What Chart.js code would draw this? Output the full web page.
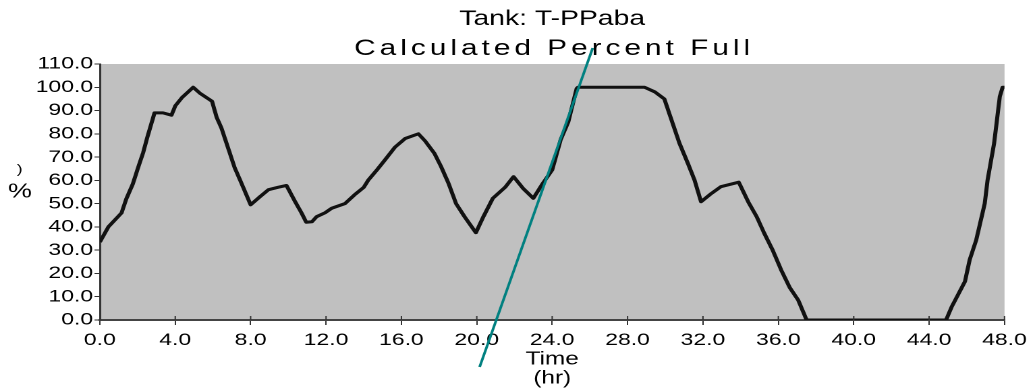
<!DOCTYPE html>
<html>
<head>
<meta charset="utf-8">
<script src="https://cdn.jsdelivr.net/npm/chart.js@4"></script>
<style>
  html, body { margin: 0; padding: 0; background: #fff; overflow: hidden; }
  /* the old report used a wide face, so the whole chart is stretched sideways */
  #wrap {
    position: absolute; left: 0; top: 0;
    width: 767px; height: 391px;
    transform: scaleX(1.3494); transform-origin: 0 0;
  }
</style>
</head>
<body>
<div id="wrap"><canvas id="tankChart"></canvas></div>
<script>
// --- Tank level over 48 hours ---
const hours = [
  0.0, 0.45, 1.15, 1.4, 1.75, 2.05, 2.3, 2.5, 2.9, 3.35, 3.8, 4.0, 4.35, 4.95, 5.3, 5.95,
  6.2, 6.45, 6.8, 7.15, 7.5, 8.0, 8.5, 8.95, 9.45, 9.9, 10.35, 10.7, 10.95, 11.25, 11.5,
  11.95, 12.3, 13.0, 13.5, 14.0, 14.25, 14.7, 15.1, 15.65, 16.2, 16.9, 17.25, 17.75, 18.1,
  18.5, 18.9, 19.35, 19.95, 20.35, 20.85, 21.5, 21.95, 22.45, 23.0, 23.5, 24.0, 24.45,
  24.85, 25.3, 25.37, 28.9, 29.45, 29.95, 30.3, 30.75, 31.2, 31.55, 31.9, 32.45, 32.95,
  33.9, 34.4, 34.85, 35.25, 35.7, 36.15, 36.6, 37.05, 37.5, 44.9, 45.2, 45.9, 46.15, 46.5,
  46.95, 47.1, 47.45, 47.75, 47.9, 48.0
];
const percentFull = [
  33.5, 40, 46, 52, 58.5, 66, 72, 78, 89, 89, 88, 92, 95.5, 100, 97.5, 94,
  87, 82.5, 74, 65.5, 59, 49.5, 53, 56, 57, 57.8, 51, 46, 42, 42.2, 44.4,
  46.1, 48, 50, 53.7, 57, 60.2, 64.5, 68.5, 74.2, 78, 80, 77, 71.6, 66,
  58.7, 50, 44.4, 37.5, 44.4, 52.3, 57, 61.6, 56.6, 52.3, 58.7, 64.5, 77.5,
  85, 99.5, 100, 100, 98, 95, 86.7, 76, 67.3, 60.2, 50.8, 54.4, 57.3,
  59.2, 50.8, 44.4, 37.3, 30, 21.5, 14, 8.6, 0, 0, 5.7, 16.5, 25.8, 34.4,
  50, 60, 76, 96, 100, 100
];

// straight fill-rate line drawn across the rise near hour 24
const trendHours = [20.15, 26.15];
const trendPercent = [-20.2, 116.9];

const xTicks = { min: 0, max: 48, step: 4 };
const yTicks = { min: 0, max: 110, step: 10 };

const tankName = "Tank: T-PPaba";
const chartTitle = "Calculated Percent Full";

const FONT = "'Liberation Sans', Arial, sans-serif";

function toPoints(xs, ys) {
  return xs.map((x, i) => ({ x: x, y: ys[i] }));
}

// grey plot background
const plotBackground = {
  id: 'plotBackground',
  beforeDraw(chart) {
    const { ctx, chartArea: a } = chart;
    ctx.save();
    ctx.fillStyle = '#c0c0c0';
    ctx.fillRect(a.left, a.top, a.right - a.left, a.bottom - a.top);
    ctx.restore();
  }
};

// titles, the stacked y label and the short inner half of the x ticks
const headings = {
  id: 'headings',
  afterDraw(chart) {
    const { ctx, chartArea: a } = chart;
    const cx = (a.left + a.right) / 2;
    ctx.save();
    ctx.fillStyle = '#000';
    ctx.textAlign = 'center';
    ctx.textBaseline = 'alphabetic';

    ctx.font = "21px " + FONT;
    ctx.fillText(tankName, cx, 25);

    ctx.font = "22px " + FONT;
    ctx.letterSpacing = '3px';
    ctx.fillText(chartTitle, cx + 1.5, 55);
    ctx.letterSpacing = '0px';

    ctx.textBaseline = 'middle';
    ctx.font = "13px " + FONT;
    ctx.fillText(')', 14.5, 170);
    ctx.font = "20px " + FONT;
    ctx.fillText('%', 14.8, 192);

    const xs = chart.scales.x;
    ctx.strokeStyle = '#333';
    ctx.lineWidth = 1;
    xs.ticks.forEach(t => {
      const px = xs.getPixelForValue(t.value);
      ctx.beginPath();
      ctx.moveTo(px, a.bottom - 4);
      ctx.lineTo(px, a.bottom);
      ctx.stroke();
    });
    ctx.restore();
  }
};

new Chart(document.getElementById('tankChart'), {
  type: 'line',
  data: {
    datasets: [
      {
        label: 'Fill rate',
        data: toPoints(trendHours, trendPercent),
        borderColor: '#008080',
        borderWidth: 2,
        pointRadius: 0,
        clip: false,
        order: 0
      },
      {
        label: 'Percent full',
        data: toPoints(hours, percentFull),
        borderColor: '#111',
        borderWidth: 3,
        pointRadius: 0,
        tension: 0,
        borderJoinStyle: 'round',
        order: 1
      }
    ]
  },
  options: {
    responsive: true,
    maintainAspectRatio: false,
    devicePixelRatio: 2,
    animation: false,
    layout: { padding: { top: 64, right: 22.6, bottom: 0, left: 0 } },
    plugins: {
      legend: { display: false },
      tooltip: { enabled: false }
    },
    scales: {
      x: {
        type: 'linear',
        min: xTicks.min,
        max: xTicks.max,
        ticks: {
          stepSize: xTicks.step,
          autoSkip: false,
          maxRotation: 0,
          padding: 5,
          color: '#000',
          font: { family: FONT, size: 17 },
          callback: v => v.toFixed(1)
        },
        grid: { drawOnChartArea: false, tickLength: 5, tickColor: '#333' },
        border: { color: '#444', width: 2 },
        title: {
          display: true,
          text: ['Time', '(hr)'],
          color: '#000',
          font: { family: FONT, size: 18, lineHeight: 1.05 },
          padding: { top: 0, bottom: 3 }
        },
        afterFit: s => { s.height = 71; }
      },
      y: {
        min: yTicks.min,
        max: yTicks.max,
        ticks: {
          stepSize: yTicks.step,
          autoSkip: false,
          padding: 1,
          color: '#000',
          font: { family: FONT, size: 17 },
          callback: v => v.toFixed(1)
        },
        grid: { drawOnChartArea: false, tickLength: 4, tickColor: '#333' },
        border: { color: '#333', width: 1.5 },
        afterFit: s => { s.width = 74; }
      }
    }
  },
  plugins: [plotBackground, headings]
});
</script>
</body>
</html>
